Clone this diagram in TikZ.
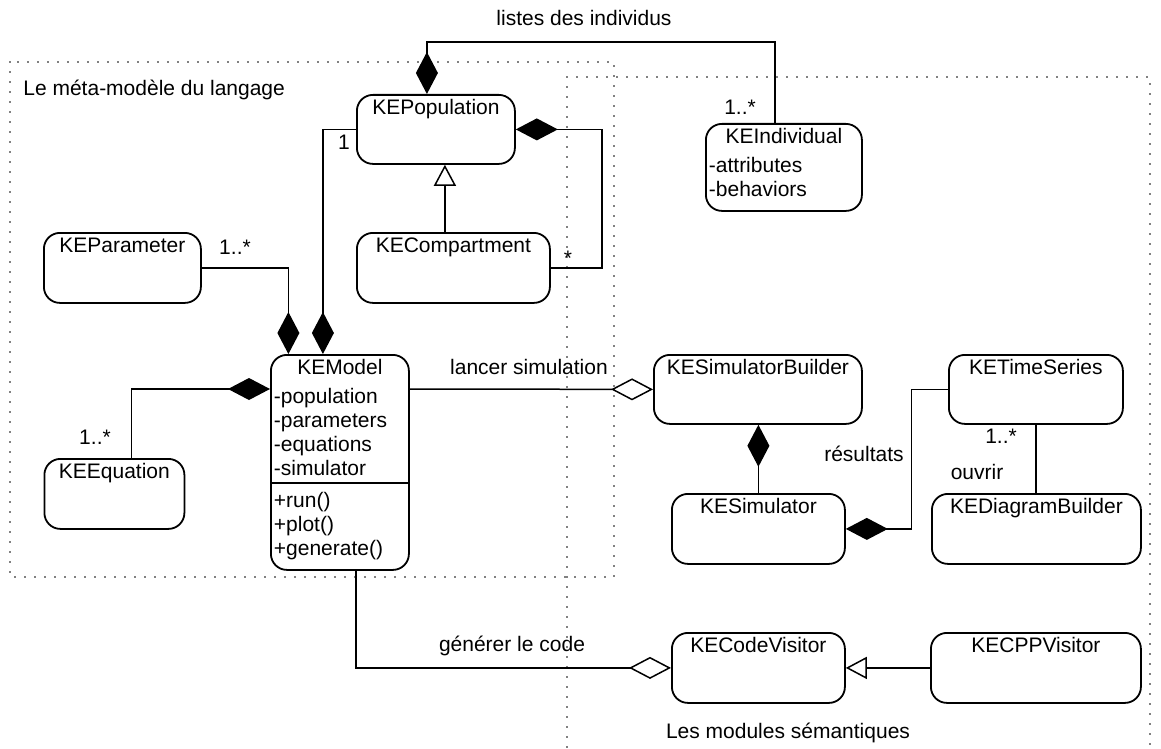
\documentclass[tikz,border=0pt]{standalone}
\usepackage{fontspec}
\setmainfont{Liberation Sans}
\usetikzlibrary{arrows.meta}

\newcommand{\kebody}[3]{\parbox[t][#2][t]{#1}{\centering\rule{0pt}{10pt}#3}}
\newcommand{\kemembers}[4]{\parbox[t][#2][t]{#1}{\centering\rule{0pt}{10pt}#3\par\vspace{2.25pt}\raggedright\leftskip=1.5pt #4}}

\tikzset{
  kebox/.style={draw, line width=0.9pt, rounded corners=8pt, inner sep=0pt, anchor=north west},
  association/.style={line width=0.75pt},
  composition/.style={association, -{Diamond[length=21pt,width=11pt]}},
  aggregation/.style={association, -{Diamond[open,length=21pt,width=11pt]}},
  generalization/.style={association, -{Triangle[open,length=10.5pt,width=11pt]}},
  frame/.style={line width=0.9pt, dash pattern=on 0pt off 5pt, line cap=round},
}

\begin{document}
\begin{tikzpicture}[x=0.5pt, y=-0.5pt, font=\fontsize{10.5}{12}\selectfont]
    \useasboundingbox (0,0) rectangle (1161,749);

    \draw[frame] (10,62) rectangle (614,577);
    \draw[frame] (567,747) -- (567,77) -- (1150,77) -- (1150,747);
    \node[anchor=west, inner sep=0pt] (metatitle) at (23,90) {Le méta-modèle du langage};
    \node (semtitle) at (788,733) {Les modules sémantiques};

    \node[kebox] (pop) at (356,94) {\kebody{79pt}{34.5pt}{KEPopulation}};
    \node[kebox] (indiv) at (705,123) {\kemembers{78pt}{43.5pt}{KEIndividual}{-attributes\\-behaviors}};
    \node[kebox] (param) at (43,232) {\kebody{78.5pt}{35pt}{KEParameter}};
    \node[kebox] (compart) at (356,232) {\kebody{96.5pt}{35pt}{KECompartment}};
    \node[kebox] (model) at (270,354) {\kemembers{69pt}{107.5pt}{KEModel}{-population\\-parameters\\-equations\\-simulator\par\vspace{4pt}+run()\\+plot()\\+generate()}};
    \node[kebox] (eq) at (43.5,458) {\kebody{70pt}{35pt}{KEEquation}};
    \node[kebox] (simb) at (653,354) {\kebody{104pt}{34.5pt}{KESimulatorBuilder}};
    \node[kebox] (sim) at (671,493) {\kebody{86.5pt}{35pt}{KESimulator}};
    \node[kebox] (ts) at (948,354) {\kebody{87pt}{34.5pt}{KETimeSeries}};
    \node[kebox] (diag) at (931,493) {\kebody{104.5pt}{35pt}{KEDiagramBuilder}};
    \node[kebox] (codev) at (671,632) {\kebody{86.5pt}{35pt}{KECodeVisitor}};
    \node[kebox] (cpp) at (930,632) {\kebody{105pt}{35pt}{KECPPVisitor}};
    \draw[line width=0.9pt] ([yshift=-64.5pt]model.north west) -- ([yshift=-64.5pt]model.north east);

    \draw[composition] ([xshift=-4.5pt]indiv.north) -- ++(0,-81) -| ([xshift=-4.5pt]pop.north);
    \draw[composition] (pop.west) -| ([xshift=-8.5pt]model.north);
    \draw[composition] (param.east) -| ([xshift=-25.75pt]model.north);
    \draw[composition] ([xshift=8.5pt]eq.north) |- ([yshift=-17.5pt]model.north west);
    \draw[composition] (compart.east) -- ++(51,0) |- (pop.east);
    \draw[generalization] ([xshift=-4.25pt]compart.north) -- ([xshift=-4.25pt]compart.north |- pop.south);
    \draw[aggregation] ([yshift=-17.5pt]model.north east) -- (simb.west);
    \draw[composition] (sim.north) -- (sim.north |- simb.south);
    \draw[composition] (ts.west) -- ++(-36.5,0) |- (sim.east);
    \draw[association] (ts.south) -- (ts.south |- diag.north);
    \draw[aggregation] ([xshift=8pt]model.south) |- (codev.west);
    \draw[generalization] (cpp.west) -- (codev.east);

    \node (listlabel) at (584,18) {listes des individus};
    \node (indivmult) at (740,107) {1..*};
    \node (popmult) at (344,142) {1};
    \node (parammult) at (235,247) {1..*};
    \node (eqmult) at (95,437) {1..*};
    \node (compartmult) at (568,258) {*};
    \node (simlabel) at (529,367) {lancer simulation};
    \node (reslabel) at (864,454) {résultats};
    \node (tsmult) at (1001,436) {1..*};
    \node (openlabel) at (977,472) {ouvrir};
    \node (genlabel) at (512,646) {générer le code};
\end{tikzpicture}
\end{document}
